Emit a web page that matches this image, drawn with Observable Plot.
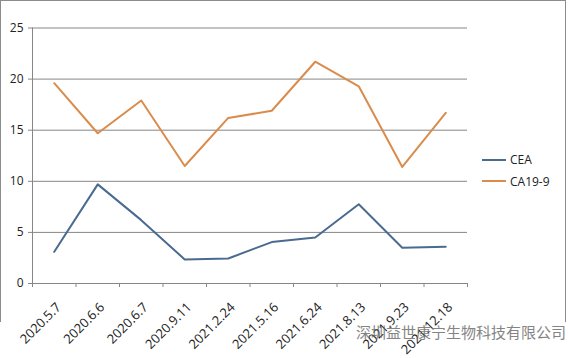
<!DOCTYPE html>
<html>
<head>
<meta charset="utf-8">
<script src="https://cdn.jsdelivr.net/npm/d3@7"></script>
<script src="https://cdn.jsdelivr.net/npm/@observablehq/plot@0.6"></script>
<style>
  html, body { margin: 0; padding: 0; background: #fff; }
  #wrap { position: relative; width: 568px; height: 358px; overflow: hidden; font-family: "Open Sans", sans-serif; }
  #frame { position: absolute; left: 0; top: 0; width: 566px; height: 322px; border: 1px solid #8c8c8c; border-bottom: none; box-sizing: border-box; }
  .leg { position: absolute; left: 482px; font-size: 12px; color: #222; display: flex; align-items: center; }
  .leg span.sw { display: inline-block; width: 24px; height: 2px; margin-right: 4px; }
  #wm { position: absolute; left: 356px; top: 321px; font-size: 15px; color: #666; font-family: "Noto Sans CJK SC", sans-serif; opacity: 0.8; }
</style>
</head>
<body>
<div id="wrap"></div>
<script>
const dates = ["2020.5.7","2020.6.6","2020.6.7","2020.9.11","2021.2.24","2021.5.16","2021.6.24","2021.8.13","2021.9.23","2021.12.18"];
const cea = [3.1, 9.7, 6.2, 2.35, 2.45, 4.05, 4.5, 7.75, 3.5, 3.6];
const ca199 = [19.6, 14.7, 17.9, 11.5, 16.2, 16.9, 21.7, 19.3, 11.4, 16.7];
const seriesNames = ["CEA", "CA19-9"];
const seriesColors = ["#4a6a8f", "#d98c4c"];
const yTicks = [0, 5, 10, 15, 20, 25];

const rows = [];
dates.forEach((d, i) => {
  rows.push({i, date: d, series: seriesNames[0], value: cea[i]});
  rows.push({i, date: d, series: seriesNames[1], value: ca199[i]});
});
const idx = dates.map((d, i) => i);
const bounds = d3.range(dates.length + 1).map(i => i - 0.5);

const chart = Plot.plot({
  width: 568,
  height: 358,
  marginLeft: 32,
  marginRight: 101,
  marginTop: 27.5,
  marginBottom: 75,
  style: {fontFamily: "Open Sans, sans-serif", fontSize: "12px", color: "#222", background: "transparent"},
  x: {domain: [-0.5, dates.length - 0.5], axis: null, label: null},
  y: {domain: [0, 25], axis: null, label: null},
  color: {domain: seriesNames, range: seriesColors},
  marks: [
    Plot.ruleY(yTicks.filter(t => t > 0), {stroke: "#868686", strokeWidth: 1, strokeOpacity: 1}),
    Plot.ruleY([0], {stroke: "#868686"}),
    Plot.ruleX([-0.5], {stroke: "#868686"}),
    Plot.axisY({ticks: yTicks, tickSize: 4, tickPadding: 5, stroke: "#868686", tickFormat: d => String(d), fill: "#222", label: null}),
    Plot.axisX({ticks: bounds, tickSize: 4, tickFormat: () => "", stroke: "#868686", label: null}),
    Plot.axisX({ticks: idx, tickSize: 0, tickPadding: 18, rotate: -45, textAnchor: "end", dx: 1, fontSize: 13, tickFormat: i => dates[i], fill: "#222", label: null}),
    Plot.line(rows, {x: "i", y: "value", z: "series", stroke: "series", strokeWidth: 2, curve: "linear"})
  ]
});

const wrap = document.getElementById("wrap");
wrap.appendChild(chart);
const frame = document.createElement("div");
frame.id = "frame";
wrap.appendChild(frame);
seriesNames.forEach((n, k) => {
  const l = document.createElement("div");
  l.className = "leg";
  l.style.top = (151 + k * 21.5) + "px";
  l.innerHTML = `<span class="sw" style="background:${seriesColors[k]}"></span>${n}`;
  wrap.appendChild(l);
});
const wm = document.createElement("div");
wm.id = "wm";
wm.textContent = "深圳益世康宁生物科技有限公司";
wrap.appendChild(wm);
</script>
</body>
</html>
